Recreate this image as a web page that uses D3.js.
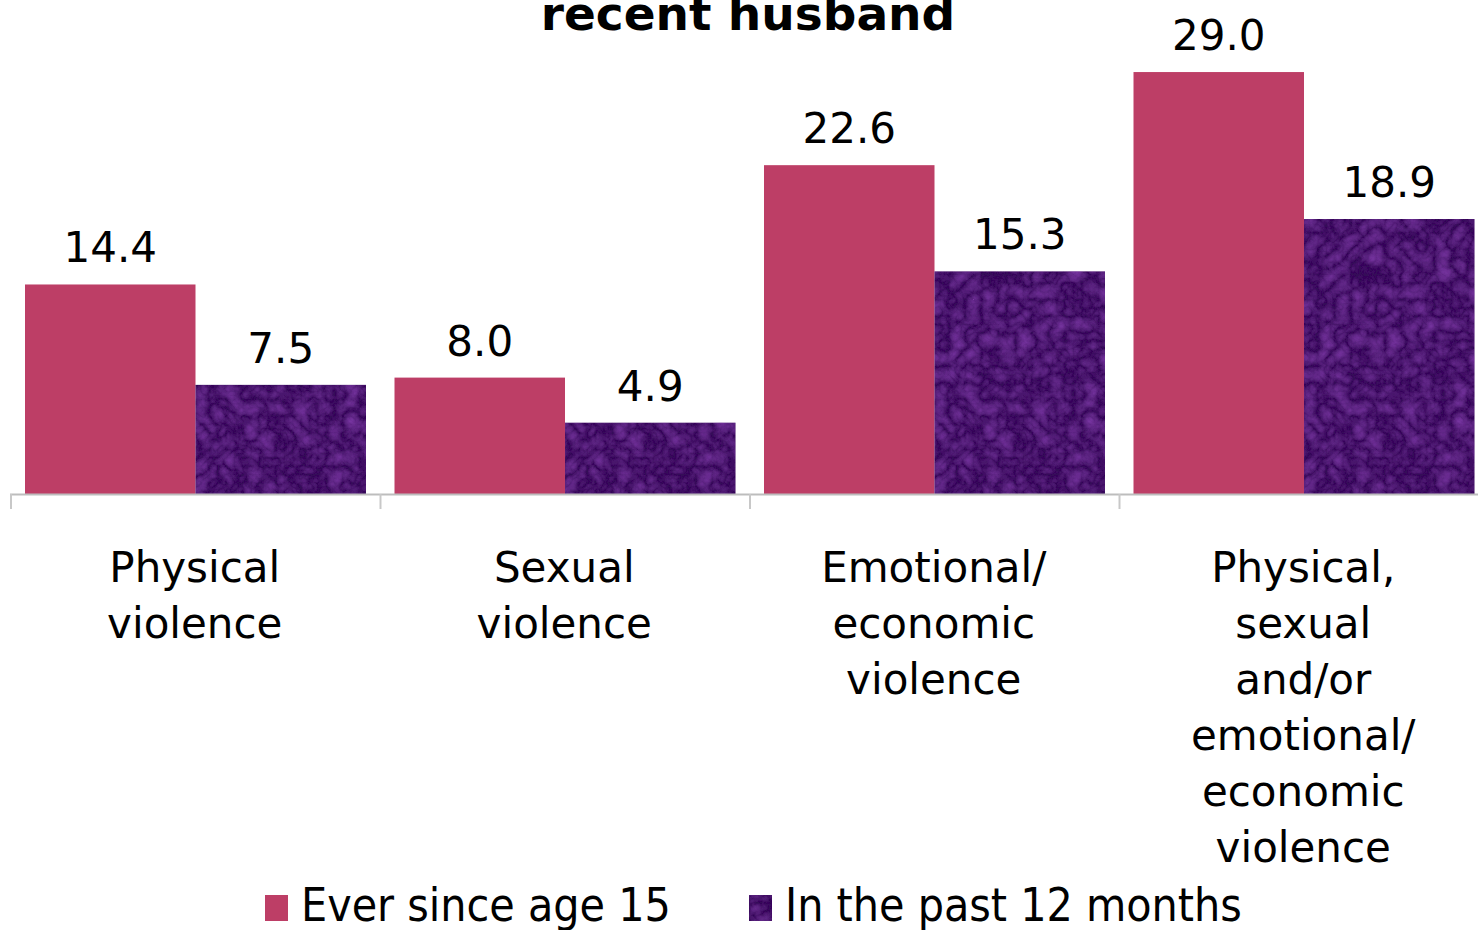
<!DOCTYPE html>
<html>
<head>
<meta charset="utf-8">
<script src="https://cdn.jsdelivr.net/npm/d3@7"></script>
<style>
  html, body { margin: 0; padding: 0; background: #fff; }
  svg { display: block; }
  text { font-family: "DejaVu Sans", sans-serif; fill: #000; }
</style>
</head>
<body>
<svg id="chart" width="1478" height="930"></svg>
<script>
// data
var categories = [
  ['Physical', 'violence'],
  ['Sexual', 'violence'],
  ['Emotional/', 'economic', 'violence'],
  ['Physical,', 'sexual', 'and/or', 'emotional/', 'economic', 'violence']
]
var seriesNames = ['Ever since age 15', 'In the past 12 months']
var everSince15 = [14.4, 8.0, 22.6, 29.0]
var past12Months = [7.5, 4.9, 15.3, 18.9]
var colors = ['#bd3e66', '#360a58']

var svg = d3.select('#chart')
var baseY = 494

// purple texture, kept subtle
var defs = svg.append('defs')
var f = defs.append('filter').attr('id', 'tex')
  .attr('x', 0).attr('y', 0).attr('width', 1).attr('height', 1)
f.append('feTurbulence').attr('type', 'turbulence')
  .attr('baseFrequency', 0.06).attr('numOctaves', 4).attr('seed', 7).attr('result', 'n')
f.append('feColorMatrix').attr('in', 'n').attr('type', 'matrix')
  .attr('values', '0 0 0 0 0.34  0 0 0 0 0.07  0 0 0 0 0.62  0.6 0 0 0 -0.05')
  .attr('result', 'c')
f.append('feComposite').attr('in', 'c').attr('in2', 'SourceGraphic').attr('operator', 'in').attr('result', 'ci')
var m = f.append('feMerge')
m.append('feMergeNode').attr('in', 'SourceGraphic')
m.append('feMergeNode').attr('in', 'ci')

var idx = d3.range(categories.length)
var x0 = d3.scaleBand().domain(idx).range([10, 1488]).padding(0)
var x1 = d3.scaleBand().domain([0, 1]).range([15, 356]).padding(0)
var y = d3.scaleLinear().domain([0, 30]).range([baseY, baseY - 30 * 14.55])

// title (cut off at top)
svg.append('text')
  .attr('x', 748).attr('y', 30)
  .attr('text-anchor', 'middle')
  .style('font-weight', 'bold').style('font-size', '47px')
  .text('recent husband')

var rows = idx.map(function(i) {
  return [everSince15[i], past12Months[i]]
})

var groups = svg.append('g').selectAll('g')
  .data(rows).enter().append('g')
  .attr('transform', function(d, i) { return 'translate(' + x0(i) + ',0)' })

groups.selectAll('rect')
  .data(function(d) { return d }).enter().append('rect')
  .attr('x', function(d, j) { return x1(j) })
  .attr('y', function(d) { return y(d) })
  .attr('width', x1.bandwidth())
  .attr('height', function(d) { return y(0) - y(d) })
  .attr('fill', function(d, j) { return colors[j] })
  .attr('filter', function(d, j) { return j === 1 ? 'url(#tex)' : null })

groups.selectAll('text.val')
  .data(function(d) { return d }).enter().append('text')
  .attr('class', 'val')
  .attr('x', function(d, j) { return x1(j) + x1.bandwidth() / 2 })
  .attr('y', function(d) { return y(d) - 22 })
  .attr('text-anchor', 'middle')
  .style('font-size', '42px')
  .text(function(d) { return d.toFixed(1) })

// axis
var axis = svg.append('g')
axis.append('line')
  .attr('x1', 10).attr('x2', 1478).attr('y1', baseY + 0.5).attr('y2', baseY + 0.5)
  .attr('stroke', '#bdbdbd').attr('stroke-width', 2)
axis.selectAll('line.tick')
  .data(idx).enter().append('line')
  .attr('class', 'tick')
  .attr('x1', function(i) { return x0(i) + 1 }).attr('x2', function(i) { return x0(i) + 1 })
  .attr('y1', baseY).attr('y2', baseY + 15)
  .attr('stroke', '#c8c8c8').attr('stroke-width', 2)

// category labels
svg.append('g').selectAll('text')
  .data(categories).enter().append('text')
  .attr('text-anchor', 'middle')
  .style('font-size', '42px')
  .each(function(lines, i) {
    var t = d3.select(this)
    lines.forEach(function(l, k) {
      t.append('tspan')
        .attr('x', x0(i) + x0.bandwidth() / 2)
        .attr('y', 582 + k * 56)
        .text(l)
    })
  })

// legend
var legendX = [265, 749]
var lg = svg.append('g').selectAll('g')
  .data(seriesNames).enter().append('g')
  .attr('transform', function(d, j) { return 'translate(' + legendX[j] + ',895)' })
lg.append('rect')
  .attr('width', 23).attr('height', 26)
  .attr('fill', function(d, j) { return colors[j] })
  .attr('filter', function(d, j) { return j === 1 ? 'url(#tex)' : null })
lg.append('text')
  .attr('x', 36).attr('y', 26)
  .style('font-family', '"DejaVu Sans Condensed", "DejaVu Sans", sans-serif')
  .style('font-stretch', 'condensed')
  .style('font-size', '46px')
  .text(function(d) { return d })
</script>
</body>
</html>
